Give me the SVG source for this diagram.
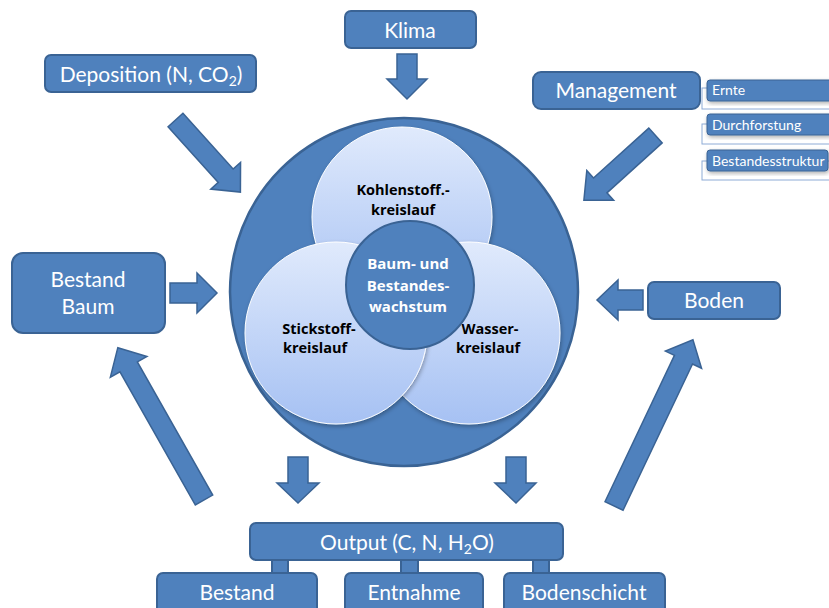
<svg xmlns="http://www.w3.org/2000/svg" width="829" height="608" viewBox="0 0 829 608">
<defs>
  <linearGradient id="lg" x1="0" y1="0" x2="0" y2="1">
    <stop offset="0" stop-color="#e0eafc"/>
    <stop offset="1" stop-color="#a6c1f3"/>
  </linearGradient>
  <filter id="sh" x="-20%" y="-20%" width="140%" height="140%">
    <feDropShadow dx="1" dy="2" stdDeviation="2" flood-color="#000" flood-opacity="0.3"/>
  </filter>
  <style>
    .box{fill:#4f81bd;stroke:#3a6394;stroke-width:2}
    .arr{fill:#4f81bd;stroke:#3a6394;stroke-width:1.5;stroke-linejoin:miter}
    .lc{fill:url(#lg);stroke:#ffffff;stroke-width:1;filter:url(#sh)}
    .t{font-family:Lato,"Open Sans","Liberation Sans",sans-serif;fill:#ffffff;font-size:21px;text-anchor:middle}
    .ts{font-family:Lato,"Open Sans","Liberation Sans",sans-serif;fill:#ffffff;font-size:14px}
    .tb{font-family:"Open Sans","Liberation Sans",sans-serif;fill:#000000;font-size:14.5px;font-weight:bold;text-anchor:middle}
    .tw{font-family:"Open Sans","Liberation Sans",sans-serif;fill:#ffffff;font-size:15px;font-weight:bold;text-anchor:middle}
    .bg{fill:#ffffff;stroke:#8eabd6;stroke-width:1}
    .sb{fill:#4f81bd;stroke:#3a6394;stroke-width:1;filter:url(#sh)}
  </style>
</defs>

<g id="connectors">
  <!-- Klima down -->
  <polygon class="arr" points="397,54 417,54 417,79 427,79 407,99 387,79 397,79"/>
  <!-- Deposition diagonal -->
  <path class="arr" transform="translate(175.5,120) rotate(48)" d="M0,-10 L75,-10 L75,-20 L97,0 L75,20 L75,10 L0,10 Z"/>
  <!-- Management diagonal -->
  <path class="arr" transform="translate(655.5,135.5) rotate(137.9)" d="M0,-10 L74.5,-10 L74.5,-20 L96.5,0 L74.5,20 L74.5,10 L0,10 Z"/>
  <!-- Bestand right -->
  <polygon class="arr" points="170,283 197,283 197,273 217,293 197,313 197,303 170,303"/>
  <!-- Boden left -->
  <polygon class="arr" points="643,290 618,290 618,280 597,300 618,320 618,310 643,310"/>
  <!-- Bottom down arrows -->
  <polygon class="arr" points="288,457 308,457 308,483 319,483 298,503 277,483 288,483"/>
  <polygon class="arr" points="506,457 526,457 526,483 536,483 516,503 495,483 506,483"/>
  <!-- Output to Bestand Baum -->
  <path class="arr" transform="translate(204,500) rotate(-119.5)" d="M0,-10 L153,-10 L153,-21 L175,0 L153,21 L153,10 L0,10 Z"/>
  <!-- Output to Boden -->
  <path class="arr" transform="translate(614,506) rotate(-64.6)" d="M0,-10 L162,-10 L162,-20 L184,0 L162,20 L162,10 L0,10 Z"/>
  <!-- Output to sub boxes -->
  <rect class="box" x="272" y="559" width="16" height="15" stroke-width="1.5"/>
  <rect class="box" x="401" y="559" width="17" height="15" stroke-width="1.5"/>
  <rect class="box" x="533" y="559" width="16" height="15" stroke-width="1.5"/>
</g>

<g id="zentrum">
  <circle cx="404" cy="292" r="174" fill="#4f81bd" stroke="#3a6394" stroke-width="2.5"/>
</g>
<g id="kohlenstoff">
  <circle class="lc" cx="402" cy="217" r="90"/>
  <text class="tb" x="403" y="195">Kohlenstoff.-</text>
  <text class="tb" x="403" y="215">kreislauf</text>
</g>
<g id="wasser">
  <circle class="lc" cx="469" cy="333" r="91"/>
  <text class="tb" x="490" y="334">Wasser-</text>
  <text class="tb" x="488" y="353">kreislauf</text>
</g>
<g id="stickstoff">
  <circle class="lc" cx="336" cy="333" r="91"/>
  <text class="tb" x="319" y="334">Stickstoff-</text>
  <text class="tb" x="315" y="353">kreislauf</text>
</g>
<g id="wachstum">
  <circle cx="410" cy="285" r="64" fill="#4f81bd" stroke="#3a6394" stroke-width="2"/>
  <text class="tw" x="408" y="269">Baum- und</text>
  <text class="tw" x="408" y="291">Bestandes-</text>
  <text class="tw" x="408" y="312">wachstum</text>
</g>

<g id="klima">
  <rect class="box" x="345" y="11" width="131" height="37" rx="6"/>
  <text class="t" x="410" y="38">Klima</text>
</g>
<g id="deposition">
  <rect class="box" x="45" y="55" width="211" height="37" rx="6"/>
  <text class="t" x="151" y="82">Deposition (N, CO<tspan font-size="14" dy="4">2</tspan><tspan dy="-4">)</tspan></text>
</g>
<g id="management">
  <rect class="box" x="533" y="72" width="167" height="37" rx="8"/>
  <text class="t" x="616" y="98">Management</text>
</g>
<g id="ernte">
  <rect class="bg" x="702" y="88" width="140" height="21"/>
  <rect class="sb" x="707" y="80" width="126" height="21" rx="3"/>
  <text class="ts" x="712" y="95">Ernte</text>
</g>
<g id="durchforstung">
  <rect class="bg" x="702" y="124" width="140" height="20"/>
  <rect class="sb" x="707" y="114" width="126" height="21" rx="3"/>
  <text class="ts" x="712" y="130">Durchforstung</text>
</g>
<g id="bestandesstruktur">
  <rect class="bg" x="702" y="161" width="140" height="19"/>
  <rect class="sb" x="707" y="150" width="121" height="21" rx="3"/>
  <text class="ts" x="712" y="166">Bestandesstruktur</text>
</g>
<g id="bestand-baum">
  <rect class="box" x="12" y="253" width="153" height="80" rx="11"/>
  <text class="t" x="88" y="287">Bestand</text>
  <text class="t" x="88" y="314">Baum</text>
</g>
<g id="boden">
  <rect class="box" x="648" y="282" width="132" height="37" rx="6"/>
  <text class="t" x="714" y="308">Boden</text>
</g>
<g id="output">
  <rect class="box" x="250" y="523" width="313" height="37" rx="6"/>
  <text class="t" x="407" y="550">Output (C, N, H<tspan font-size="14" dy="4">2</tspan><tspan dy="-4">O)</tspan></text>
</g>
<g id="bestand">
  <rect class="box" x="157" y="573" width="160" height="45" rx="6"/>
  <text class="t" x="237" y="600">Bestand</text>
</g>
<g id="entnahme">
  <rect class="box" x="345" y="573" width="138" height="45" rx="6"/>
  <text class="t" x="414" y="600">Entnahme</text>
</g>
<g id="bodenschicht">
  <rect class="box" x="504" y="573" width="161" height="45" rx="6"/>
  <text class="t" x="584" y="600">Bodenschicht</text>
</g>
</svg>
